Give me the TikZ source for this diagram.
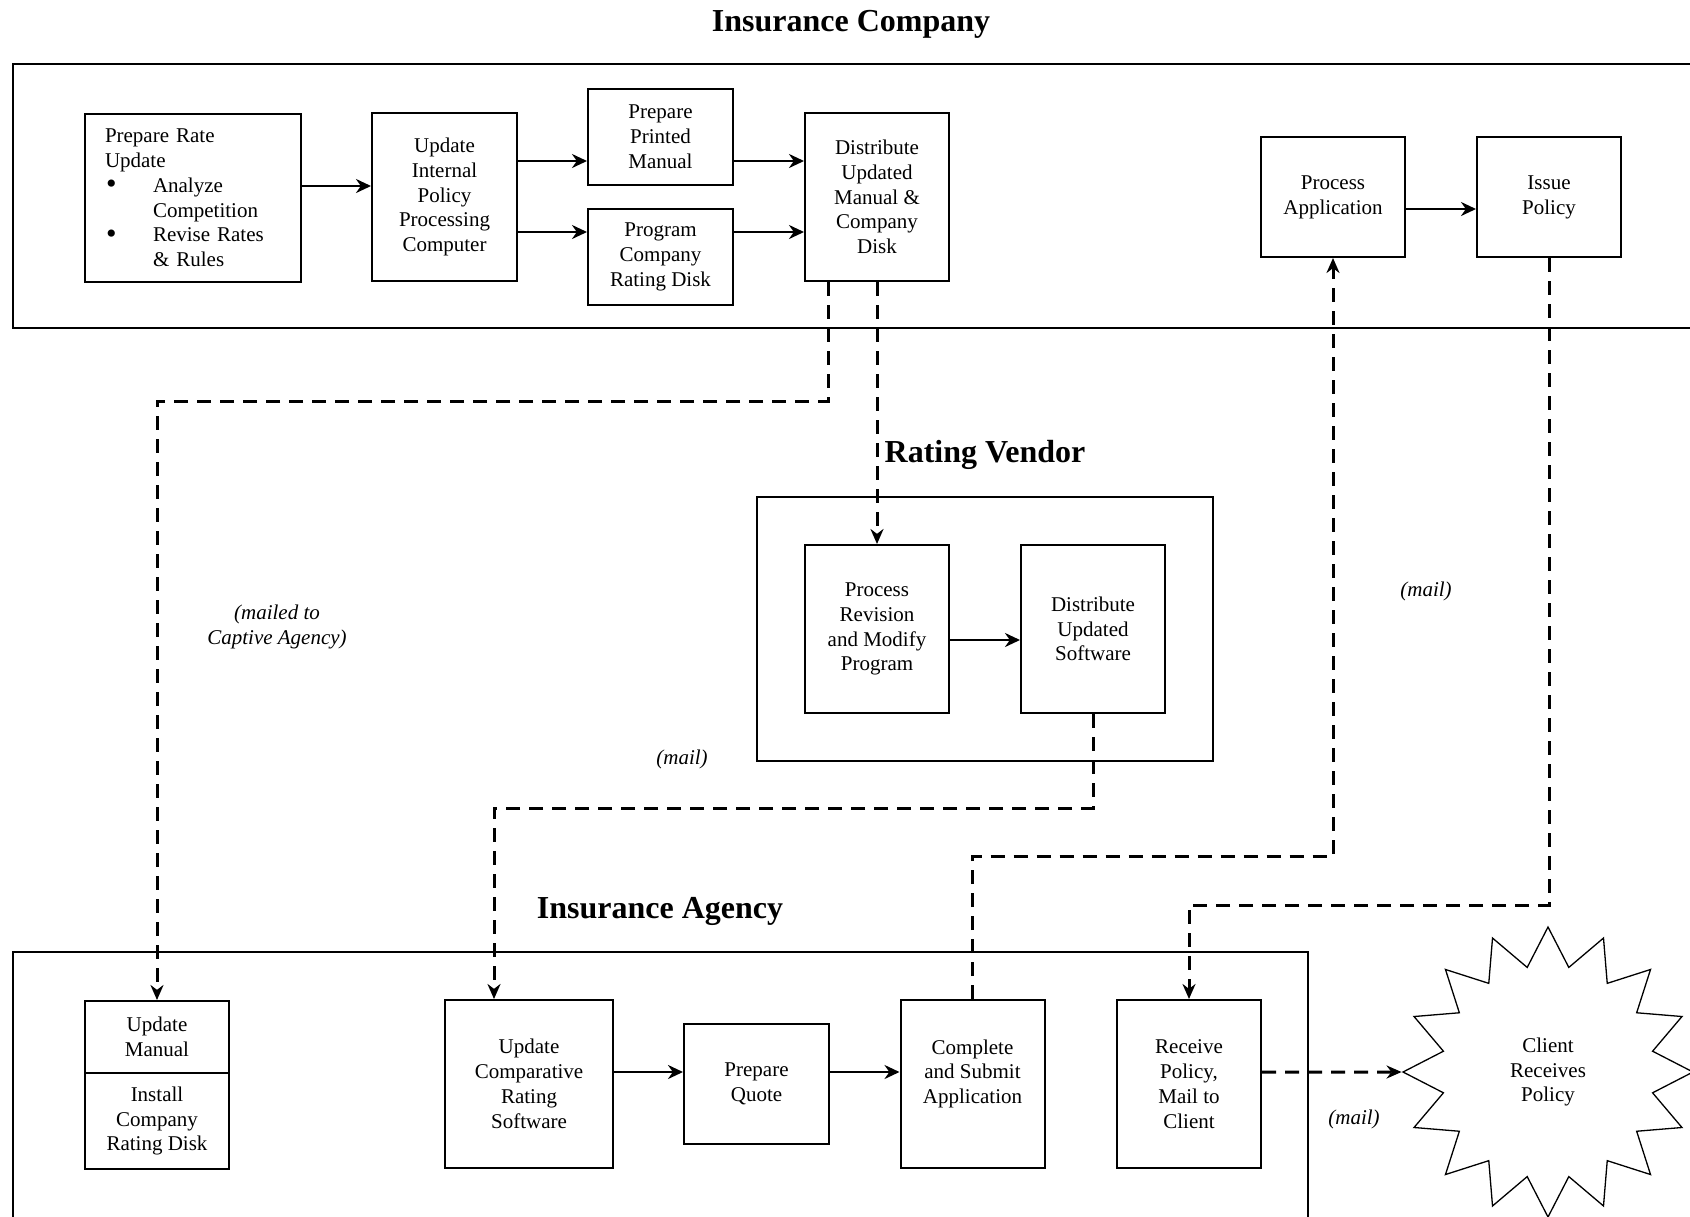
\documentclass[tikz,border=0pt]{standalone}
\usepackage{fontspec}
\setmainfont{Liberation Serif}
\usetikzlibrary{arrows.meta,shapes.geometric,calc}
\newcommand{\bigbul}{\makebox[48pt][l]{\hspace{1pt}{\fontsize{30}{24.5}\selectfont\raisebox{-1.5pt}{•}}}}
\begin{document}
\begin{tikzpicture}[x=1pt,y=-1pt,
  box/.style={draw,line width=2pt,inner sep=0pt,align=center,font=\fontsize{21}{24.8}\selectfont},
  arr/.style={line width=2.6pt,-{Stealth[length=15pt,width=14pt]}},
  darr/.style={line width=3pt,dash pattern=on 14pt off 9pt,-{Stealth[length=15pt,width=13pt]}},
  ttl/.style={font=\fontsize{32}{36}\selectfont\bfseries},
  lbl/.style={font=\fontsize{21}{24.5}\selectfont\itshape,align=center}]

\useasboundingbox[fill=white] (0,0) rectangle (1690,1216);

% containers
\draw[line width=2.2pt] (1695,64) -- (13,64) -- (13,328) -- (1695,328);
\node[draw,line width=1.6pt,minimum width=456pt,minimum height=264pt] (vendor) at (985,629) {};
\draw[line width=2.2pt] (13,1222) -- (13,952) -- (1308,952) -- (1308,1222);

% titles
\node[ttl] (t1) at (851,24) {Insurance Company};
\node[ttl] (t2) at (985,455) {Rating Vendor};
\node[ttl] (t3) at (660,911) {Insurance Agency};

% company boxes
\node[box,minimum width=216pt,minimum height=168pt,text width=176pt,align=left] (b1) at (193,198)
  {Prepare Rate\\Update\\\bigbul Analyze\\\hspace*{48pt}Competition\\\bigbul Revise Rates\\\hspace*{48pt}\& Rules};
\node[box,minimum width=145pt,minimum height=168pt] (b2) at (444.5,197) {Update\\Internal\\Policy\\Processing\\Computer};
\node[box,minimum width=145pt,minimum height=96pt] (b3) at (660.5,137) {Prepare\\Printed\\Manual};
\node[box,minimum width=145pt,minimum height=96pt] (b4) at (660.5,257) {Program\\Company\\Rating Disk};
\node[box,minimum width=144pt,minimum height=168pt] (b5) at (877,197) {Distribute\\Updated\\Manual \&\\Company\\Disk};
\node[box,minimum width=144pt,minimum height=120pt] (pa) at (1333,197) {Process\\Application};
\node[box,minimum width=144pt,minimum height=120pt] (ip) at (1549,197) {Issue\\Policy};

% vendor boxes
\node[box,minimum width=144pt,minimum height=168pt] (pr) at (877,629) {Process\\Revision\\and Modify\\Program};
\node[box,minimum width=144pt,minimum height=168pt] (ds) at (1093,629) {Distribute\\Updated\\Software};

% agency boxes
\node[box,minimum width=144pt,minimum height=72pt] (um1) at (157,1037) {Update\\Manual};
\node[box,minimum width=144pt,minimum height=96pt] (um2) at (157,1121) {Install\\Company\\Rating Disk};
\node[box,minimum width=168pt,minimum height=168pt] (uc) at (529,1084) {Update\\Comparative\\Rating\\Software};
\node[box,minimum width=145pt,minimum height=120pt] (pq) at (756.5,1084) {Prepare\\Quote};
\node[box,minimum width=144pt,minimum height=168pt] (cs) at (972.5,1084) {Complete\\and Submit\\Application\\\mbox{}};
\node[box,minimum width=144pt,minimum height=168pt] (rp) at (1189,1084) {Receive\\Policy,\\Mail to\\Client};

\node[draw,line width=1.3pt,star,star points=16,star point ratio=1.36,minimum size=290pt,inner sep=0pt,
  align=center,font=\fontsize{21}{24.5}\selectfont] (star) at (1548,1072) {Client\\Receives\\Policy};

% solid arrows
\coordinate (a1) at ([yshift=12pt]b1.east);
\draw[arr] (a1) -- (a1 -| b2.west);
\coordinate (a2) at ([yshift=36pt]b2.east);
\draw[arr] (a2) -- (a2 -| b3.west);
\coordinate (a3) at ([yshift=-35pt]b2.east);
\draw[arr] (a3) -- (a3 -| b4.west);
\coordinate (a4) at ([yshift=-24pt]b3.east);
\draw[arr] (a4) -- (a4 -| b5.west);
\coordinate (a5) at ([yshift=25pt]b4.east);
\draw[arr] (a5) -- (a5 -| b5.west);
\coordinate (a6) at ([yshift=-12pt]pa.east);
\draw[arr] (a6) -- (a6 -| ip.west);
\coordinate (a7) at ([yshift=-11pt]pr.east);
\draw[arr] (a7) -- (a7 -| ds.west);
\coordinate (a8) at ([yshift=12pt]uc.east);
\draw[arr] (a8) -- (a8 -| pq.west);
\coordinate (a9) at ([yshift=12pt]pq.east);
\draw[arr] (a9) -- (a9 -| cs.west);

% dashed connectors
\draw[darr] ([xshift=-49pt]b5.south) -- ++(0,119) -| (um1.north);
\draw[darr] (b5.south) -- (pr.north);
\draw[darr] (ds.south) -- ++(0,94) -| ([xshift=-35pt]uc.north);
\draw[darr] (cs.north) -- ++(0,-143) -| (pa.south);
\draw[darr] (ip.south) -- ++(0,647) -| (rp.north);
\coordinate (a10) at ([yshift=12pt]rp.east);
\draw[darr] (a10) -- (star.west);

% labels
\node[lbl] (l1) at (277,627) {(mailed to\\Captive Agency)};
\node[lbl] (l2) at (682,759) {(mail)};
\node[lbl] (l3) at (1426,591) {(mail)};
\node[lbl] (l4) at (1354,1119) {(mail)};
\end{tikzpicture}
\end{document}
